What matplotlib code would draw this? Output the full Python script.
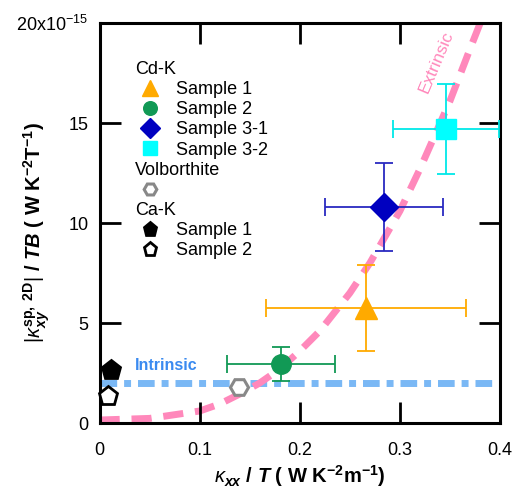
import matplotlib
matplotlib.use('Agg')
import matplotlib.pyplot as plt
from matplotlib.lines import Line2D

plt.rcParams['font.family'] = ['Liberation Sans', 'DejaVu Sans']
plt.rcParams['mathtext.fontset'] = 'custom'
plt.rcParams['mathtext.rm'] = 'Liberation Sans'
plt.rcParams['mathtext.it'] = 'Liberation Sans:italic'
plt.rcParams['mathtext.bf'] = 'Liberation Sans:bold'
plt.rcParams['mathtext.bfit'] = 'Liberation Sans:italic:bold'
plt.rcParams['mathtext.sf'] = 'Liberation Sans'

# Cd-K samples (y in units of 1e-15)
cdk_labels = ['Sample 1', 'Sample 2', 'Sample 3-1', 'Sample 3-2']
cdk_x = [0.266, 0.1815, 0.284, 0.346]
cdk_y = [5.75, 2.93, 10.82, 14.68]
cdk_xerr = [0.100, 0.054, 0.059, 0.053]
cdk_yerr = [2.15, 0.85, 2.20, 2.25]

# Volborthite
volb_x = [0.139]
volb_y = [1.82]

# Ca-K samples
cak_labels = ['Sample 1', 'Sample 2']
cak_x = [0.011, 0.008]
cak_y = [2.65, 1.35]

# intrinsic level and extrinsic curve
intr_x = [0.0, 0.4]
intr_y = [2.02, 2.02]
ext_x = [0.0, 0.05, 0.10, 0.12, 0.14, 0.16, 0.18, 0.20, 0.22, 0.25, 0.27, 0.30, 0.32, 0.35, 0.37, 0.385]
ext_y = [0.15, 0.23, 0.6, 0.95, 1.45, 2.0, 2.7, 3.6, 4.6, 6.5, 8.0, 10.6, 12.7, 16.1, 18.7, 20.6]

fig = plt.figure(figsize=(5.16, 4.98), dpi=100)
ax = fig.add_axes([0.193, 0.1506, 0.776, 0.8032])

ax.plot(intr_x, intr_y, color='#7ab8f5', lw=5, dashes=(2.4, 1.0, 1.0, 1.0), zorder=1)
ax.plot(ext_x, ext_y, color='#ff88bb', lw=5, dashes=(2.9, 1.7), zorder=1)

cdk_styles = [('^', '#ffaa00', '#ffaa00', 16),
              ('o', '#119955', '#119955', 14),
              ('D', '#0000c0', '#2a2ac0', 14),
              ('s', '#00ffff', '#00e8e8', 14)]
handles = [Line2D([], [], ls='none')]
labels = ['Cd-K']
for i, (m, fc, ec, ms) in enumerate(cdk_styles):
    ax.errorbar(cdk_x[i], cdk_y[i], xerr=cdk_xerr[i], yerr=cdk_yerr[i],
                fmt=m, color=fc, mec=fc, ms=ms, ecolor=ec, elinewidth=1.3,
                capsize=6.5, capthick=1.3, zorder=3, clip_on=False)
    handles.append(Line2D([], [], ls='none', marker=m, color=fc, ms=ms))
    labels.append(cdk_labels[i])

ax.plot(volb_x, volb_y, ls='none', marker='H', ms=13, mfc='white', mec='#888888', mew=2.2, zorder=3)
handles += [Line2D([], [], ls='none'),
            Line2D([], [], ls='none', marker='H', ms=13, mfc='white', mec='#888888', mew=2.2)]
labels += ['Volborthite', '']

ca_fill = ['black', 'white']
handles.append(Line2D([], [], ls='none'))
labels.append('Ca-K')
for i in range(2):
    ax.plot(cak_x[i], cak_y[i], ls='none', marker='p', ms=14, mfc=ca_fill[i], mec='black',
            mew=2, zorder=4, clip_on=False)
    handles.append(Line2D([], [], ls='none', marker='p', ms=14, mfc=ca_fill[i], mec='black', mew=2))
    labels.append(cak_labels[i])

leg = ax.legend(handles, labels, loc='upper left', bbox_to_anchor=(0.1036, 0.905),
                frameon=False, fontsize=13, handlelength=1.0, handletextpad=0.95,
                labelspacing=0.175, borderpad=0, borderaxespad=0, markerscale=0.7)
for t in leg.get_texts():
    if t.get_text() in ('Cd-K', 'Volborthite', 'Ca-K'):
        t.set_x(-41)

ax.text(0.0355, 2.9, 'Intrinsic', color='#3a8af0', fontsize=11.5, fontweight='bold',
        ha='left', va='center')
ax.text(0.3365, 18.05, 'Extrinsic', color='#ff88bb', fontsize=12.5, rotation=67,
        ha='center', va='center')

ax.set_xlim(0, 0.4)
ax.set_ylim(0, 20)
ax.set_xticks([0, 0.1, 0.2, 0.3, 0.4])
ax.set_xticklabels(['0', '0.1', '0.2', '0.3', '0.4'])
ax.set_yticks([0, 5, 10, 15, 20])
ax.set_yticklabels(['0', '5', '10', '15', '20x10$^{-15}$'])
ax.tick_params(direction='in', length=15, width=2, top=True, right=True,
               labelsize=13, pad=8)
ax.tick_params(axis='x', pad=13.5)
for s in ax.spines.values():
    s.set_linewidth(2.2)

ax.set_xlabel(r'$\kappa_{\mathbfit{xx}}$ / $\mathbfit{T}$ ( W K$^{\mathbf{-2}}$m$^{\mathbf{-1}}$)',
              fontsize=14.5, fontweight='bold', labelpad=3)
ax.set_ylabel(r'$|\kappa^{\mathbf{sp,\ 2D}}_{\mathbfit{xy}}|$ / $\mathbfit{TB}$ ( W K$^{\mathbf{-2}}$T$^{\mathbf{-1}}$)',
              fontsize=14.5, fontweight='bold')
ax.yaxis.set_label_coords(-0.12, 0.475)

fig.savefig('out.png', dpi=100)
